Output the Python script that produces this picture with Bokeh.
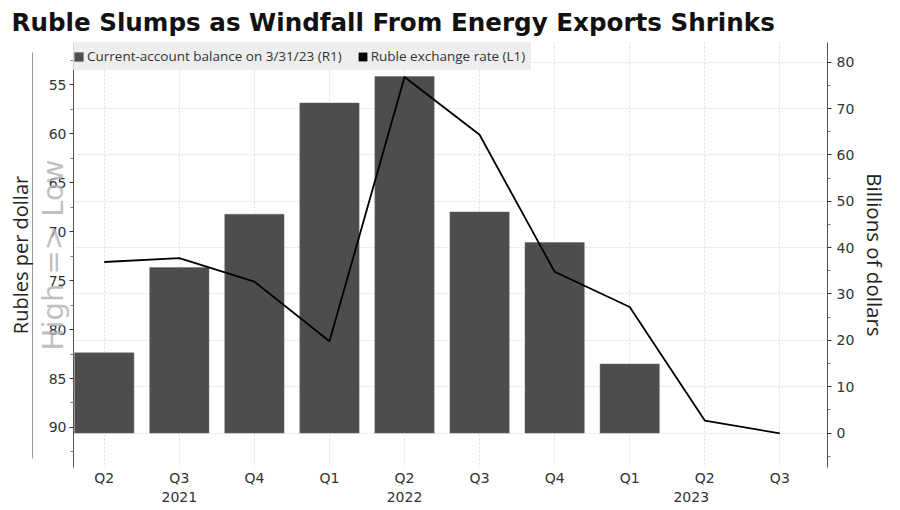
import math
from bokeh.plotting import figure
from bokeh.models import (Range1d, LinearAxis, FixedTicker, Grid, Legend,
                          LegendItem, ColumnDataSource)
from bokeh.embed import file_html
from bokeh.resources import INLINE

# ---- data ----
quarters = ["Q2", "Q3", "Q4", "Q1", "Q2", "Q3", "Q4", "Q1", "Q2", "Q3"]
years = ["2021", "2022", "2023"]
year_pos = [1, 4, 7.82]
balance = [17.3, 35.7, 47.2, 71.2, 76.9, 47.7, 41.1, 14.9]          # billions of dollars (R1)
rate = [73.1, 72.7, 75.1, 81.2, 54.2, 60.1, 74.1, 77.7, 89.3, 90.6]  # rubles per dollar (L1)
left_ticks = [55, 60, 65, 70, 75, 80, 85, 90]
left_minor = [52.5, 57.5, 62.5, 67.5, 72.5, 77.5, 82.5, 87.5, 92.5]
right_ticks = [0, 10, 20, 30, 40, 50, 60, 70, 80]
right_minor = [-5, 5, 15, 25, 35, 45, 55, 65, 75]

FONT = "Open Sans"
TICKFONT = "DejaVu Sans"
TXT = "#333333"

xs = list(range(len(quarters)))
bar_src = ColumnDataSource(dict(x=xs[:len(balance)], top=balance))
line_src = ColumnDataSource(dict(x=xs, y=rate))

p = figure(width=900, height=510, output_backend="svg", toolbar_location=None,
           x_range=Range1d(-0.41, 9.635), y_range=Range1d(94.09, 50.68),
           min_border_left=73, min_border_right=73, min_border_top=42, min_border_bottom=43)
p.extra_y_ranges = {"right": Range1d(-7.43, 84.25)}
p.outline_line_color = None
p.background_fill_color = "white"

# title
p.title.text = "Ruble Slumps as Windfall From Energy Exports Shrinks"
p.title.text_font = "DejaVu Sans"
p.title.text_font_style = "bold"
p.title.text_font_size = "24.6px"
p.title.text_color = "#111111"
p.title.align = "left"
p.title.offset = -62
p.title.standoff = 11

# x axis: quarters with year on a second line
labels = {i: q for i, q in enumerate(quarters)}
year_ticks = []
for yr, xp in zip(years, year_pos):
    if xp in labels:
        labels[xp] = labels[xp] + "\n" + yr
    else:
        labels[xp] = "\n" + yr
        year_ticks.append(xp)
xa = p.xaxis[0]
xa.ticker = FixedTicker(ticks=xs + year_ticks)
xa.major_label_overrides = labels
xa.axis_line_color = None
xa.major_tick_line_color = None
xa.minor_tick_line_color = None
xa.major_tick_out = 0
xa.minor_tick_out = 0
xa.major_label_text_font = TICKFONT
xa.major_label_text_font_size = "14px"
xa.major_label_text_color = TXT
xa.major_label_standoff = 2

# left axis (values) with the "High => Low" watermark as its label
ya = p.yaxis[0]
ya.ticker = FixedTicker(ticks=left_ticks, minor_ticks=left_minor)
ya.axis_line_color = "#555555"
ya.major_tick_out = 4
ya.major_tick_in = 0
ya.minor_tick_out = 3
ya.minor_tick_in = 0
ya.major_tick_line_color = "#333333"
ya.minor_tick_line_color = "#777777"
ya.major_label_text_font = TICKFONT
ya.major_label_text_font_size = "14px"
ya.major_label_text_color = TXT
ya.major_label_standoff = 3
ya.axis_label = "High => Low"
ya.axis_label_text_font = "DejaVu Sans"
ya.axis_label_text_font_size = "29px"
ya.axis_label_text_font_style = "normal"
ya.axis_label_text_color = "#b4b4b4"
ya.axis_label_text_alpha = 0.85
ya.axis_label_standoff = -24

# outer left axis: gray bracket line + axis title
la = LinearAxis(ticker=FixedTicker(ticks=[]), bounds=(51.7, 93.2))
la.axis_line_color = "#999999"
la.major_tick_out = 0
la.major_tick_in = 0
la.minor_tick_out = 0
la.minor_tick_in = 0
la.major_label_standoff = 0
la.axis_label = "Rubles per dollar"
la.axis_label_text_font = FONT
la.axis_label_text_font_size = "20px"
la.axis_label_text_font_style = "normal"
la.axis_label_text_color = "#222222"
la.axis_label_standoff = -1
p.add_layout(la, "left")

# right axis
ra = LinearAxis(y_range_name="right", ticker=FixedTicker(ticks=right_ticks, minor_ticks=right_minor))
ra.axis_line_color = "#555555"
ra.major_tick_out = 4
ra.major_tick_in = 0
ra.minor_tick_out = 3
ra.minor_tick_in = 0
ra.major_tick_line_color = "#333333"
ra.minor_tick_line_color = "#777777"
ra.major_label_text_font = TICKFONT
ra.major_label_text_font_size = "14px"
ra.major_label_text_color = TXT
ra.major_label_standoff = 5
ra.axis_label = "Billions of dollars"
ra.axis_label_text_font = FONT
ra.axis_label_text_font_size = "20.5px"
ra.axis_label_text_font_style = "normal"
ra.axis_label_text_color = "#222222"
ra.axis_label_standoff = 4
p.add_layout(ra, "right")

# grids
p.xgrid.ticker = FixedTicker(ticks=xs)
p.xgrid.grid_line_color = "#dddddd"
p.xgrid.grid_line_dash = "2 2"
p.ygrid.visible = False
hg = Grid(dimension=1, ticker=ra.ticker, y_range_name="right",
          grid_line_color="#dddddd", grid_line_dash="2 2")
p.add_layout(hg)

# bars and line
bars = p.vbar(x="x", top="top", bottom=0, width=0.79, source=bar_src, y_range_name="right",
              fill_color="#4d4d4d", line_color="#6a6a6a", line_width=0.5)
ln = p.line(x="x", y="y", source=line_src, line_color="black", line_width=1.8)

# legend swatch for the line (zero-size, invisible bar)
sw = p.vbar(x=[xs[0]], top=[0], bottom=[0], width=0.0, y_range_name="right",
            fill_color="#000000", line_color=None)
legend = Legend(items=[LegendItem(label="Current-account balance on 3/31/23 (R1)", renderers=[bars]),
                       LegendItem(label="Ruble exchange rate (L1)", renderers=[sw])],
                orientation="horizontal", location="top_left", margin=0, padding=9,
                spacing=15, glyph_width=11, glyph_height=11, label_standoff=3, label_height=28,
                label_width=160,
                background_fill_color="#ebebeb", background_fill_alpha=0.85,
                border_line_color=None, label_text_font=FONT, label_text_font_size="13.5px",
                label_text_color=TXT)
p.add_layout(legend)

open("out.html", "w").write(file_html(p, INLINE))
